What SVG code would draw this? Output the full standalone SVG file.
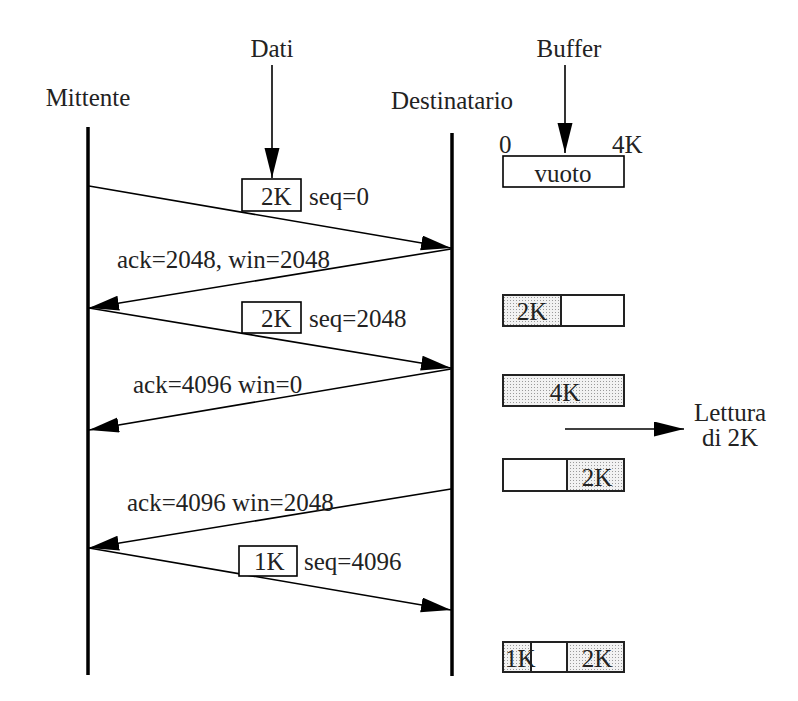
<svg xmlns="http://www.w3.org/2000/svg" width="798" height="701" viewBox="0 0 798 701">
<defs>
<pattern id="dots" width="3" height="3" patternUnits="userSpaceOnUse">
<rect width="3" height="3" fill="#f2f2f2"/>
<rect width="1" height="1" fill="#9a9a9a"/>
</pattern>
<marker id="ah" markerUnits="userSpaceOnUse" markerWidth="31" markerHeight="16" refX="30" refY="7.5" orient="auto">
<path d="M0,0 L30,7.5 L0,15 Z" fill="#000"/>
</marker>
</defs>
<style>
text{font-family:"Liberation Serif","Times New Roman",serif;font-size:25px;fill:#222}
.c{text-anchor:middle}
.life{stroke:#000;stroke-width:3.5}
.msg{stroke:#000;stroke-width:1.6;fill:none;marker-end:url(#ah)}
.box{fill:#fff;stroke:#000;stroke-width:1.6}
.buf{stroke:#222;stroke-width:2}
.sh{fill:url(#dots)}
</style>
<rect width="798" height="701" fill="#fff"/>

<g id="mittente">
<text class="c" x="88" y="106">Mittente</text>
<line class="life" x1="88" y1="127" x2="88" y2="675"/>
</g>
<g id="destinatario">
<text class="c" x="452" y="109">Destinatario</text>
<line class="life" x1="452" y1="133" x2="452" y2="676"/>
</g>
<g id="dati">
<text class="c" x="272" y="57">Dati</text>
</g>
<g id="buffer">
<text class="c" x="569" y="57">Buffer</text>
<text x="499" y="153">0</text>
<text x="612" y="153">4K</text>
</g>

<g id="connectors">
<line class="msg" x1="272" y1="65" x2="272" y2="178"/>
<line class="msg" x1="565" y1="65" x2="565" y2="153"/>
<line class="msg" x1="89" y1="186" x2="451" y2="248"/>
<line class="msg" x1="451" y1="249" x2="89" y2="308"/>
<line class="msg" x1="89" y1="308" x2="451" y2="368"/>
<line class="msg" x1="451" y1="369" x2="89" y2="430"/>
<line class="msg" x1="451" y1="489" x2="89" y2="548"/>
<line class="msg" x1="89" y1="548" x2="451" y2="610"/>
<line class="msg" x1="565" y1="429" x2="684" y2="429"/>
</g>

<g id="seg1">
<rect class="box" x="242" y="179" width="59" height="32"/>
<text x="261" y="205">2K</text>
<text x="309" y="205">seq=0</text>
</g>
<g id="ack1">
<text x="117" y="268">ack=2048, win=2048</text>
</g>
<g id="seg2">
<rect class="box" x="242" y="302" width="59" height="31"/>
<text x="261" y="327">2K</text>
<text x="309" y="327">seq=2048</text>
</g>
<g id="ack2">
<text x="133" y="393">ack=4096 win=0</text>
</g>
<g id="ack3">
<text x="127" y="511">ack=4096 win=2048</text>
</g>
<g id="seg3">
<rect class="box" x="239" y="546" width="58" height="30"/>
<text x="254" y="570">1K</text>
<text x="304" y="570">seq=4096</text>
</g>

<g id="buf0">
<rect class="box" x="503" y="156" width="121" height="31"/>
<text class="c" x="563" y="182">vuoto</text>
</g>
<g id="buf1">
<rect class="sh" x="503" y="295" width="58" height="31"/>
<rect class="buf" x="503" y="295" width="121" height="31" fill="none"/>
<line class="buf" x1="561" y1="295" x2="561" y2="326"/>
<text class="c" x="532" y="320">2K</text>
</g>
<g id="buf2">
<rect class="sh buf" x="503" y="375" width="121" height="31"/>
<text class="c" x="565" y="401">4K</text>
</g>
<g id="lettura">
<text class="c" x="730" y="421">Lettura</text>
<text class="c" x="730" y="446">di 2K</text>
</g>
<g id="buf3">
<rect class="sh" x="567" y="459" width="57" height="32"/>
<rect class="buf" x="503" y="459" width="121" height="32" fill="none"/>
<line class="buf" x1="567" y1="459" x2="567" y2="491"/>
<text class="c" x="597" y="486">2K</text>
</g>
<g id="buf4">
<rect class="sh" x="503" y="642" width="28" height="30"/>
<rect class="sh" x="567" y="642" width="57" height="30"/>
<rect class="buf" x="503" y="642" width="121" height="30" fill="none"/>
<line class="buf" x1="531" y1="642" x2="531" y2="672"/>
<line class="buf" x1="567" y1="642" x2="567" y2="672"/>
<text x="505" y="667">1K</text>
<text class="c" x="597" y="667">2K</text>
</g>
</svg>
